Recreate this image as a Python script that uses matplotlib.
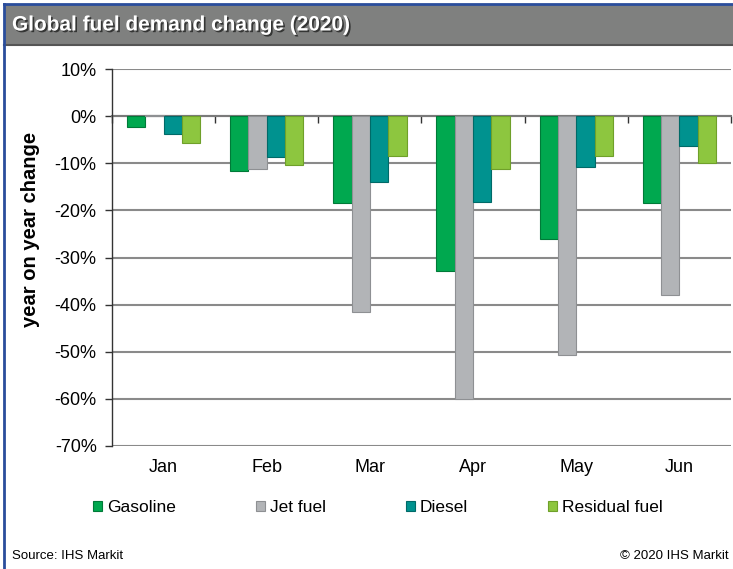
import numpy as np
import matplotlib
matplotlib.use("Agg")
import matplotlib.pyplot as plt
from matplotlib.patches import Patch, Rectangle
from matplotlib.lines import Line2D
import matplotlib.patheffects as pe

# ---------------- data ----------------
months = ["Jan", "Feb", "Mar", "Apr", "May", "Jun"]
series_names = ["Gasoline", "Jet fuel", "Diesel", "Residual fuel"]
gasoline = [-2.3, -11.6, -18.4, -32.8, -26.1, -18.4]
jet_fuel = [0.3, -11.2, -41.5, -60.0, -50.7, -38.0]
diesel = [-3.8, -8.6, -14.0, -18.2, -10.8, -6.4]
residual = [-5.7, -10.4, -8.5, -11.2, -8.5, -10.0]
y_ticks = [10, 0, -10, -20, -30, -40, -50, -60, -70]
colors = ["#00a84f", "#b2b4b7", "#00928f", "#8dc63f"]
edges = ["#007a38", "#8e9093", "#006a68", "#6fa02a"]

plt.rcParams["font.family"] = ["Liberation Sans", "DejaVu Sans"]

W, H = 733, 569
fig = plt.figure(figsize=(W / 100, H / 100), dpi=100)
fig.patch.set_facecolor("white")


def fx(px):
    return px / W


def fy(py):
    return 1 - py / H


# title bar + frame
fig.patches.append(Rectangle((fx(4), fy(45)), fx(W - 4), fy(5) - fy(45),
                             transform=fig.transFigure, facecolor="#7f807f",
                             edgecolor="none", zorder=0))
fig.lines.append(Line2D([fx(4), 1], [fy(45), fy(45)], transform=fig.transFigure,
                        color="#555555", lw=1.5))
fig.lines.append(Line2D([fx(4), 1], [fy(4), fy(4)], transform=fig.transFigure,
                        color="#2a4d9c", lw=2))
fig.lines.append(Line2D([fx(4), fx(4)], [0, fy(4)], transform=fig.transFigure,
                        color="#2a4d9c", lw=2))
fig.text(fx(12), fy(25), "Global fuel demand change (2020)", color="white",
         fontsize=15, fontweight="bold", va="center", ha="left",
         path_effects=[pe.withSimplePatchShadow(offset=(1.2, -1.2), shadow_rgbFace="#222222", alpha=0.8)])

ax = fig.add_axes([fx(112), fy(446), fx(731) - fx(112), fy(69) - fy(446)])

x = np.arange(len(months))
bw = 0.178
all_vals = [gasoline, jet_fuel, diesel, residual]
for i, vals in enumerate(all_vals):
    ax.bar(x + (i - 1.5) * bw, vals, bw, color=colors[i], edgecolor=edges[i],
           linewidth=0.8, zorder=3, label=series_names[i])

ax.set_xlim(-0.5, len(months) - 0.5)
ax.set_ylim(-70, 10)
ax.set_yticks(y_ticks)
ax.set_yticklabels([f"{v}%" for v in y_ticks], fontsize=13)
ax.yaxis.grid(True, color="#8a8a8a", lw=1.5, zorder=1)
ax.set_axisbelow(True)

for s in ["top", "right"]:
    ax.spines[s].set_visible(False)
ax.spines["left"].set_color("#333333")
ax.spines["left"].set_linewidth(1.0)
ax.spines["bottom"].set_position(("data", 0))
ax.spines["bottom"].set_color("#7a7a7a")
ax.spines["bottom"].set_linewidth(1.5)
ax.spines["bottom"].set_zorder(2)

ax.set_xticks(np.arange(len(months) + 1) - 0.5)
ax.set_xticklabels([])
ax.tick_params(axis="x", direction="out", length=5, color="#333333", width=1)
ax.tick_params(axis="y", direction="out", length=5, color="#333333", width=1, pad=6)

for xi, m in zip(x, months):
    ax.text(xi, -0.058, m, transform=ax.get_xaxis_transform(), ha="center",
            va="center", fontsize=13)

fig.text(fx(30), fy(229), "year on year change", rotation=90, ha="center",
         va="center", fontsize=14.5, fontweight="bold")

handles = [Patch(facecolor=colors[i], edgecolor=edges[i], linewidth=0.8)
           for i in range(len(series_names))]
fig.legend(handles, series_names, loc="center", bbox_to_anchor=(fx(378), fy(508)),
           ncol=4, frameon=False, fontsize=12.5, handlelength=0.5, handleheight=0.5,
           handletextpad=0.3, columnspacing=4.6)

fig.text(fx(12), fy(556), "Source: IHS Markit", fontsize=9.5, ha="left", va="center")
fig.text(fx(729), fy(556), "\u00a9 2020 IHS Markit", fontsize=9.5, ha="right", va="center")

fig.savefig("out.png", dpi=100)
